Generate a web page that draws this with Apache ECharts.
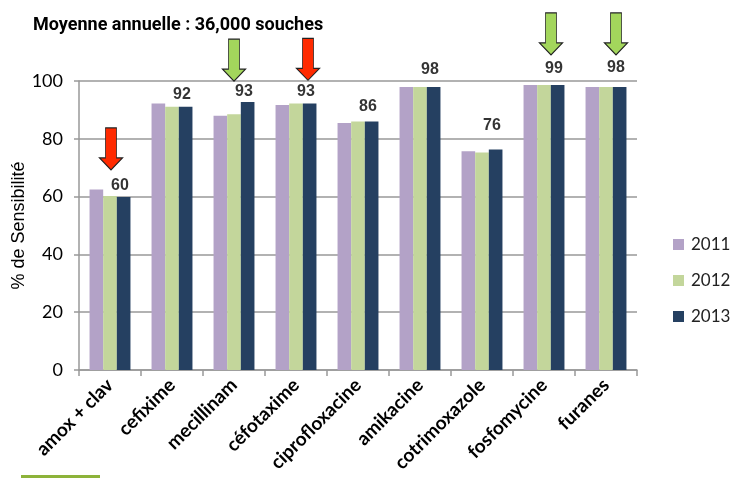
<!DOCTYPE html>
<html><head><meta charset="utf-8">
<script src="https://cdn.jsdelivr.net/npm/echarts@6/dist/echarts.min.js"></script>
<style>html,body{margin:0;padding:0;background:#fff}#c{width:730px;height:478px}</style>
</head><body><div id="c"></div>
<script>
var categories = ['amox + clav','cefixime','mecillinam','céfotaxime','ciprofloxacine','amikacine','cotrimoxazole','fosfomycine','furanes'];
var years = ['2011','2012','2013'];
var v2011 = [62.5, 92.2, 88.0, 91.7, 85.5, 97.9, 75.7, 98.6, 97.9];
var v2012 = [60.2, 91.1, 88.5, 92.2, 86.0, 97.9, 75.3, 98.6, 97.9];
var v2013 = [59.9, 91.1, 92.7, 92.2, 86.0, 97.9, 76.3, 98.6, 97.9];
var labelText = ['60','92','93','93','86','98','76','99','98'];
var labelY = [63.9, 95.4, 96.5, 96.5, 91.0, 103.9, 84.7, 104.3, 104.5];
var greenArrows = [[2, 107.2],[7, 116.3],[8, 116.3]];
var redArrows = [[0, 76.5],[3, 107.5]];
var yTicks = [0,20,40,60,80,100];

var colors = ['#B3A2C7','#C3D69B','#254061'];
var arrowPath = 'path://M6,0 L17,0 L17,30 L23,30 L11.5,42 L0,30 L6,30 Z';
var greenShift = [0, 7, 10];
var redShift = [1, 12];

var chart = echarts.init(document.getElementById('c'));
var barSeries = [v2011, v2012, v2013].map(function(d, i){
  return {name: years[i], type:'bar', data:d, barGap:'0%', barCategoryGap:'34%',
    itemStyle:{color:colors[i]}, z:2};
});
function arrowSeries(list, color, shift){
  return {type:'scatter', clip:false, silent:true, z:5,
    data: list.map(function(p, i){ return {value:p, symbolOffset:[shift[i],0]}; }),
    symbol: arrowPath, symbolSize:[23,42], symbolKeepAspect:false,
    itemStyle:{color:color, opacity:1, borderColor:'#222', borderWidth:1}};
}
chart.setOption({
  animation:false,
  title:{text:'Moyenne annuelle : 36,000 souches', left:28, top:11,
    textStyle:{fontFamily:'Roboto, "Liberation Sans", sans-serif', fontWeight:'bold', fontSize:18, color:'#000'}},
  legend:{orient:'vertical', left:668, top:231, itemWidth:11, itemHeight:11, itemGap:19, icon:'rect',
    data:years, textStyle:{fontFamily:'Lato, "Open Sans", sans-serif', fontSize:17, lineHeight:17, color:'#222', padding:[0,0,0,2]}},
  grid:{left:79, right:93, top:81, bottom:108, containLabel:false, outerBoundsMode:'none'},
  xAxis:{type:'category', data:categories,
    axisLine:{lineStyle:{color:'#999', width:1.5}},
    axisTick:{show:true, length:6, lineStyle:{color:'#999', width:1.5}},
    axisLabel:{rotate:45, interval:0, margin:12, fontFamily:'Lato, "Open Sans", sans-serif', fontWeight:'bold', fontSize:19, color:'#000'}},
  yAxis:{type:'value', min:0, max:100, interval:20,
    name:'% de Sensibilité', nameLocation:'middle', nameGap:51, nameMoveOverlap:false,
    nameTextStyle:{fontFamily:'"Liberation Sans", Arial, sans-serif', fontSize:18, color:'#000'},
    axisLine:{show:true, lineStyle:{color:'#999', width:1.5}},
    axisTick:{show:true, length:5, lineStyle:{color:'#999', width:1.5}},
    splitLine:{lineStyle:{color:'#999', width:1.5}},
    axisLabel:{margin:16, fontFamily:'Lato, "Liberation Sans", sans-serif', fontSize:18, color:'#000',
      formatter:function(v){ return yTicks.indexOf(v) >= 0 ? String(v) : ''; }}},
  series: barSeries.concat([
    {type:'scatter', clip:false, silent:true, symbolSize:0, z:4,
      data: labelY.map(function(y, i){ return [i, y]; }),
      label:{show:true, position:'inside', offset:[10,0],
        formatter:function(p){ return labelText[p.dataIndex]; },
        fontFamily:'"Liberation Sans", Arial, sans-serif', fontWeight:'bold', fontSize:16, color:'#000'}},
    arrowSeries(greenArrows, '#A3D65C', greenShift),
    arrowSeries(redArrows, '#FF2A00', redShift)
  ]),
  graphic:[{type:'rect', left:21, top:475, shape:{width:79, height:3}, style:{fill:'#8DB33A'}}]
});
</script></body></html>
